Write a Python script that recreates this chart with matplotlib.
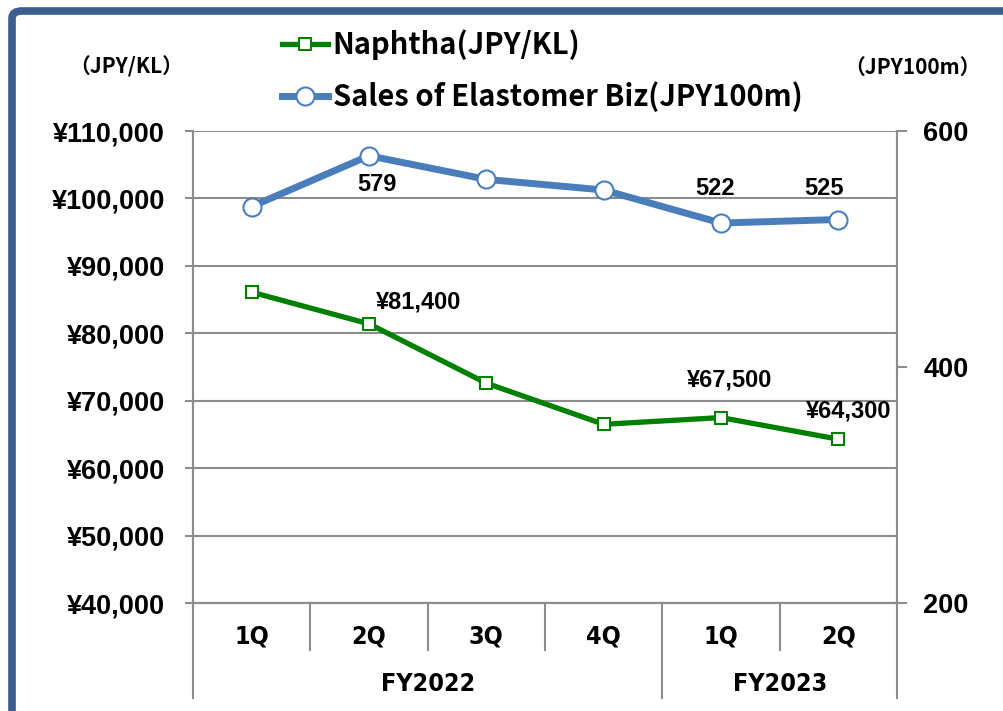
import numpy as np
import matplotlib.pyplot as plt
from matplotlib.patches import FancyBboxPatch
import matplotlib.transforms as mtransforms

quarters = ["1Q", "2Q", "3Q", "4Q", "1Q", "2Q"]
years = ["FY2022", "FY2023"]
year_spans = [(0, 4), (4, 6)]
naphtha = [86100, 81400, 72600, 66500, 67500, 64300]
sales = [536, 579, 559, 550, 522, 525]

naphtha_labels = {1: "¥81,400", 4: "¥67,500", 5: "¥64,300"}
sales_labels = {1: "579", 4: "522", 5: "525"}

green = "#008000"
blue = "#4A7EBB"
grid_c = "#8C8C8C"
num_font = ["Liberation Sans", "DejaVu Sans"]
jp_font = ["Noto Sans CJK JP", "DejaVu Sans"]

fig = plt.figure(figsize=(10.04, 7.11), dpi=100)
W, H = 1004, 711

# slide frame
frame = FancyBboxPatch((12 / W, -0.2), 1.2, 1.2 - 11 / H,
                       boxstyle="round,pad=0,rounding_size=0.01",
                       transform=fig.transFigure, fill=False,
                       edgecolor="#3B5E8C", linewidth=5.5)
fig.patches.append(frame)

ax = fig.add_axes([193 / W, 1 - 603 / H, 704 / W, 472 / H])
ax2 = ax.twinx()

x = np.arange(len(quarters))
ln1, = ax.plot(x, naphtha, color=green, lw=3.8, marker="s", ms=9,
               mfc="white", mec=green, mew=1.5, zorder=5)
ln2, = ax2.plot(x, sales, color=blue, lw=5, marker="o", ms=13,
                mfc="white", mec=blue, mew=1.5, zorder=5)

ax.set_xlim(-0.5, len(quarters) - 0.5)
ax.set_ylim(40000, 110000)
ax.set_yticks(np.arange(40000, 110001, 10000))
ax.set_yticklabels([f"¥{v:,}" for v in range(40000, 110001, 10000)],
                   fontsize=19.5, fontweight="bold", family=num_font)
ax.yaxis.grid(True, color=grid_c, lw=1.5)
ax.set_axisbelow(True)
ax.set_xticks([])
ax.tick_params(axis="y", length=6, width=1.5, color=grid_c, pad=14)

ax2.set_ylim(200, 600)
ax2.set_yticks([200, 400, 600])
ax2.set_yticklabels(["200", "400", "600"], fontsize=19.5, fontweight="bold",
                    family=num_font)
ax2.tick_params(axis="y", length=7, width=1.5, color=grid_c, pad=12)

for a in (ax, ax2):
    for s in a.spines.values():
        s.set_color(grid_c)
        s.set_linewidth(1.5)
    a.spines["top"].set_visible(False)

# data labels
lab_off_n = {1: (50, 22), 4: (9, 38), 5: (10, 28)}
lab_off_s = {1: (8, -29), 4: (-6, 35), 5: (-14, 31)}
for i, t in naphtha_labels.items():
    ax.annotate(t, (x[i], naphtha[i]), xytext=lab_off_n[i],
                textcoords="offset pixels", ha="center", va="center",
                fontsize=17, fontweight="bold", family=num_font)
for i, t in sales_labels.items():
    ax2.annotate(t, (x[i], sales[i]), xytext=lab_off_s[i],
                 textcoords="offset pixels", ha="center", va="center",
                 fontsize=17, fontweight="bold", family=num_font)

# two-level category axis
tr = mtransforms.blended_transform_factory(ax.transData, ax.transAxes)
for i, q in enumerate(quarters):
    ax.text(x[i], -0.07, q, transform=tr, ha="center", va="center",
            fontsize=18, fontweight="bold", family="DejaVu Sans",
            fontstretch="condensed")
for (s, e), y in zip(year_spans, years):
    ax.text((s + e - 1) / 2, -0.172, y, transform=tr, ha="center",
            va="center", fontsize=18, fontweight="bold", family="DejaVu Sans",
            fontstretch="condensed")
year_edges = {s for s, e in year_spans} | {e for s, e in year_spans}
for b in range(len(quarters) + 1):
    low = -0.201 if b in year_edges else -0.1
    ax.plot([b - 0.5, b - 0.5], [0, low], transform=tr, color=grid_c,
            lw=1.5, clip_on=False)

# units
fig.text(126 / W, 1 - 67 / H, "（JPY/KL）", ha="center", va="center",
         fontsize=15, fontweight="bold", family=jp_font)
fig.text(912 / W, 1 - 67 / H, "（JPY100m）", ha="center", va="center",
         fontsize=15, fontweight="bold", family=jp_font)

fig.legend([ln1, ln2], ["Naphtha(JPY/KL)", "Sales of Elastomer Biz(JPY100m)"],
           loc="upper left", bbox_to_anchor=(270 / W, 1 - 18 / H),
           frameon=False, handlelength=1.6, handletextpad=0.15,
           labelspacing=0.72, borderaxespad=0,
           prop={"family": jp_font, "weight": "bold", "size": 21})

fig.savefig("out.png", dpi=100)
